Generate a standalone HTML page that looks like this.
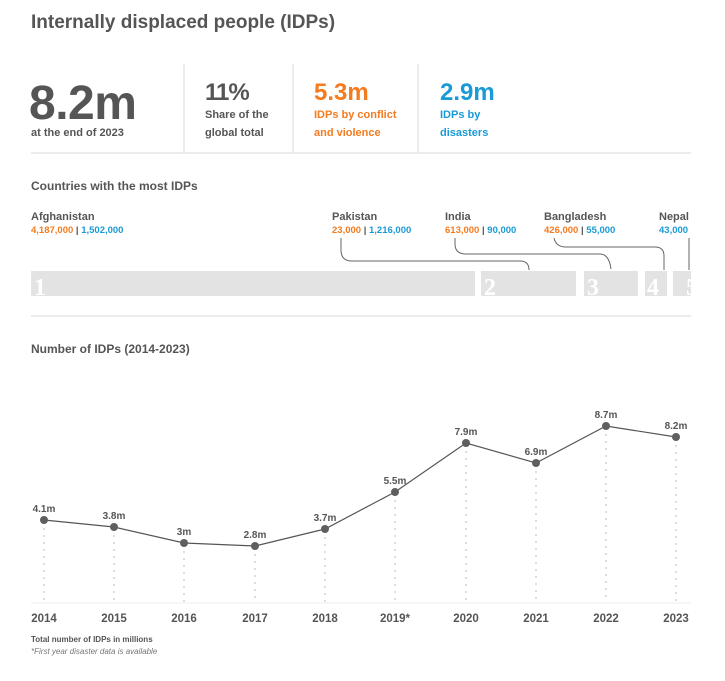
<!DOCTYPE html>
<html><head><style>
body{margin:0;background:#fff;}
svg text{font-family:"Liberation Sans",sans-serif;font-weight:bold;}
svg text.num{font-family:"Liberation Serif",serif;font-weight:bold;}
</style></head><body>
<svg width="725" height="676" viewBox="0 0 725 676" xmlns="http://www.w3.org/2000/svg">
<text x="31" y="28" font-size="19" fill="#555">Internally displaced people (IDPs)</text>
<g stroke="#e6e6e6" stroke-width="1.5">
<line x1="184" y1="64" x2="184" y2="153"/><line x1="293" y1="64" x2="293" y2="153"/><line x1="418" y1="64" x2="418" y2="153"/>
<line x1="31" y1="153" x2="691" y2="153"/><line x1="31" y1="316" x2="691" y2="316"/>
</g>
<text x="29" y="119" font-size="48" fill="#555" letter-spacing="-0.5">8.2m</text>
<text x="31" y="136" font-size="11" fill="#555">at the end of 2023</text>
<text x="205" y="100" font-size="24" fill="#555" letter-spacing="-1">11%</text>
<text x="205" y="118" font-size="11" fill="#555">Share of the</text>
<text x="205" y="136" font-size="11" fill="#555">global total</text>
<text x="314" y="100" font-size="24" fill="#f47b20">5.3m</text>
<text x="314" y="118" font-size="11" fill="#f47b20">IDPs by conflict</text>
<text x="314" y="136" font-size="11" fill="#f47b20">and violence</text>
<text x="440" y="100" font-size="24" fill="#1a9ad6">2.9m</text>
<text x="440" y="118" font-size="11" fill="#1a9ad6">IDPs by</text>
<text x="440" y="136" font-size="11" fill="#1a9ad6">disasters</text>
<text x="31" y="190" font-size="12" fill="#555">Countries with the most IDPs</text>
<g font-size="11">
<text x="31" y="220" fill="#555">Afghanistan</text>
<text x="31" y="233" font-size="9.5"><tspan fill="#f47b20">4,187,000</tspan><tspan fill="#555"> | </tspan><tspan fill="#1a9ad6">1,502,000</tspan></text>
<text x="332" y="220" fill="#555">Pakistan</text>
<text x="332" y="233" font-size="9.5"><tspan fill="#f47b20">23,000</tspan><tspan fill="#555"> | </tspan><tspan fill="#1a9ad6">1,216,000</tspan></text>
<text x="445" y="220" fill="#555">India</text>
<text x="445" y="233" font-size="9.5"><tspan fill="#f47b20">613,000</tspan><tspan fill="#555"> | </tspan><tspan fill="#1a9ad6">90,000</tspan></text>
<text x="544" y="220" fill="#555">Bangladesh</text>
<text x="544" y="233" font-size="9.5"><tspan fill="#f47b20">426,000</tspan><tspan fill="#555"> | </tspan><tspan fill="#1a9ad6">55,000</tspan></text>
<text x="659" y="220" fill="#555">Nepal</text>
<text x="659" y="233" font-size="9.5" fill="#1a9ad6">43,000</text>
</g>
<g fill="none" stroke="#666" stroke-width="1">
<path d="M341 238 V250 Q341 261 352 261 H520 Q529 261 529 270"/>
<path d="M455 238 V244 Q455 254 466 254 H600 Q609 254 611 269"/>
<path d="M554 238 Q556 247 566 247 H655 Q664 247 664 256 V270"/>
<path d="M689 238 V270"/>
</g>
<g fill="#e3e3e4">
<rect x="31" y="271" width="444" height="25"/><rect x="481" y="271" width="95" height="25"/>
<rect x="584" y="271" width="54" height="25"/><rect x="645" y="271" width="22" height="25"/><rect x="673" y="271" width="18" height="25"/>
</g>
<g fill="#fff" font-size="24">
<text class="num" x="34" y="295">1</text><text class="num" x="484" y="295">2</text><text class="num" x="587" y="295">3</text><text class="num" x="647" y="295">4</text><text class="num" x="686" y="295">5</text>
</g>
<text x="31" y="353" font-size="12" fill="#555">Number of IDPs (2014-2023)</text>
<line x1="31" y1="603" x2="691" y2="603" stroke="#eee" stroke-width="1"/>
<g stroke="#ddd" stroke-width="2" stroke-dasharray="2,5">
<line x1="44" y1="528" x2="44" y2="602"/><line x1="114" y1="535" x2="114" y2="602"/><line x1="184" y1="551" x2="184" y2="602"/><line x1="255" y1="554" x2="255" y2="602"/><line x1="325" y1="537" x2="325" y2="602"/><line x1="395" y1="500" x2="395" y2="602"/><line x1="466" y1="451" x2="466" y2="602"/><line x1="536" y1="471" x2="536" y2="602"/><line x1="606" y1="434" x2="606" y2="602"/><line x1="676" y1="445" x2="676" y2="602"/>
</g>
<polyline fill="none" stroke="#555" stroke-width="1.2" points="44,520 114,527 184,543 255,546 325,529 395,492 466,443 536,463 606,426 676,437"/>
<g fill="#5f5f61">
<circle cx="44" cy="520" r="4"/><circle cx="114" cy="527" r="4"/><circle cx="184" cy="543" r="4"/><circle cx="255" cy="546" r="4"/><circle cx="325" cy="529" r="4"/><circle cx="395" cy="492" r="4"/><circle cx="466" cy="443" r="4"/><circle cx="536" cy="463" r="4"/><circle cx="606" cy="426" r="4"/><circle cx="676" cy="437" r="4"/>
</g>
<g font-size="10" fill="#555" text-anchor="middle">
<text x="44" y="512">4.1m</text><text x="114" y="519">3.8m</text><text x="184" y="535">3m</text><text x="255" y="538">2.8m</text><text x="325" y="521">3.7m</text><text x="395" y="484">5.5m</text><text x="466" y="435">7.9m</text><text x="536" y="455">6.9m</text><text x="606" y="418">8.7m</text><text x="676" y="429">8.2m</text>
</g>
<g font-size="11.5" fill="#555" text-anchor="middle">
<text x="44" y="622">2014</text><text x="114" y="622">2015</text><text x="184" y="622">2016</text><text x="255" y="622">2017</text><text x="325" y="622">2018</text><text x="395" y="622">2019*</text><text x="466" y="622">2020</text><text x="536" y="622">2021</text><text x="606" y="622">2022</text><text x="676" y="622">2023</text>
</g>
<text x="31" y="642" font-size="8" fill="#555">Total number of IDPs in millions</text>
<text x="31" y="654" font-size="8" fill="#777" font-style="italic" style="font-weight:normal">*First year disaster data is available</text>
</svg>
</body></html>
